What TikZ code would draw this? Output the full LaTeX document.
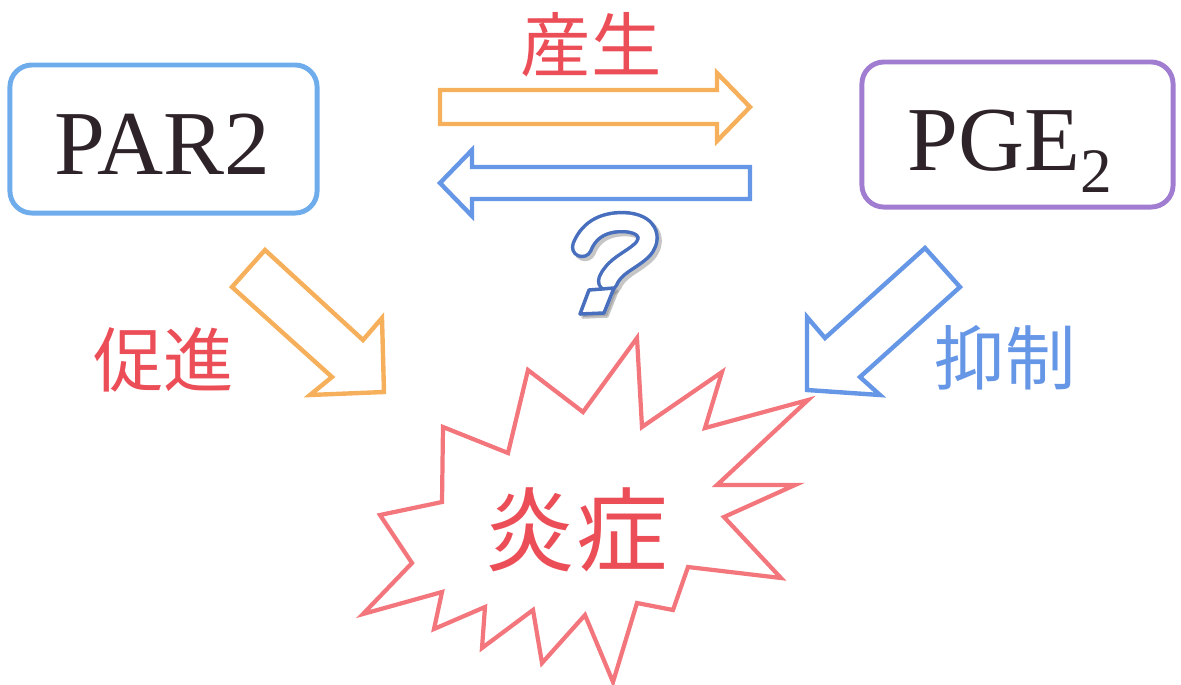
\documentclass[tikz,border=0pt]{standalone}
\usepackage{fontspec}
\setmainfont{Liberation Serif}
\newfontfamily\cjk{Noto Sans CJK JP}
\definecolor{parblue}{RGB}{110,172,235}
\definecolor{pgepurple}{RGB}{160,125,208}
\definecolor{arrorange}{RGB}{246,176,92}
\definecolor{arrblue}{RGB}{102,150,230}
\definecolor{lblred}{RGB}{236,78,88}
\definecolor{burstred}{RGB}{242,118,124}
\definecolor{qblue}{RGB}{72,110,190}
\definecolor{darktext}{RGB}{45,35,40}
\begin{document}
\begin{tikzpicture}[x=0.01cm,y=-0.01cm,
  boxstyle/.style={draw, line width=1.4pt, rounded corners=0.22cm, inner sep=0pt},
  bigtext/.style={font=\fontsize{26}{26}\selectfont, text=darktext, inner sep=0pt},
  blockarrow/.style={line width=1.25pt, fill=white, line join=miter},
  lbl/.style={font=\cjk\fontsize{20}{20}\selectfont, inner sep=0pt},
  qshadow/.style={draw=black!45, opacity=0.5, line cap=round, line join=round}
]
\useasboundingbox (0,0) rectangle (1181,684);

% boxes
\node[boxstyle, draw=parblue, minimum width=3.07cm, minimum height=1.48cm] (parbox) at (163.5,139) {};
\node[bigtext, anchor=base] (partext) at (162.5,174) {PAR2};
\node[boxstyle, draw=pgepurple, minimum width=3.11cm, minimum height=1.45cm] (pgebox) at (1017.5,134.5) {};
\node[bigtext, anchor=base west] (pgetext) at (907,170) {PGE\raisebox{-6.5pt}{\fontsize{18}{18}\selectfont 2}};

% horizontal block arrows
\draw[blockarrow, draw=arrorange] (440,90) -- (717,90) -- (717,73) -- (750,107) -- (717,141) -- (717,124) -- (440,124) -- cycle;
\draw[blockarrow, draw=arrblue] (750,167) -- (472,167) -- (472,150) -- (440,183) -- (472,216) -- (472,199) -- (750,199) -- cycle;

% diagonal block arrows
\draw[blockarrow, draw=arrorange] (265,250) -- (363,340) -- (382,318) -- (384,392) -- (310,395) -- (332,377) -- (232,287) -- cycle;
\draw[blockarrow, draw=arrblue] (925,248) -- (825,338) -- (807,317) -- (807,390) -- (880,395) -- (860,377) -- (960,287) -- cycle;

% question mark
\begin{scope}[shift={(3,3)}]
  \draw[qshadow, line width=6.4pt] (582,247) .. controls (590,227) and (607,222) .. (623,222) .. controls (650,223) and (653,240) .. (641,251) .. controls (630,261) and (614,266) .. (608,281);
  \filldraw[qshadow, fill=black!45, line width=1pt] (589,290) -- (614,288) -- (604,313) -- (580,314) -- cycle;
\end{scope}
\draw[qblue, line width=6.4pt, line cap=round, line join=round] (582,247) .. controls (590,227) and (607,222) .. (623,222) .. controls (650,223) and (653,240) .. (641,251) .. controls (630,261) and (614,266) .. (608,281);
\draw[white, line width=4.4pt, line cap=round, line join=round] (582,247) .. controls (590,227) and (607,222) .. (623,222) .. controls (650,223) and (653,240) .. (641,251) .. controls (630,261) and (614,266) .. (608,281);
\filldraw[draw=qblue, fill=white, line width=1pt, line join=round] (589,290) -- (614,288) -- (604,313) -- (580,314) -- cycle;

% starburst
\draw[burstred, line width=1.2pt, line join=miter, fill=white]
  (637,338) -- (642,427) -- (722,372) -- (705,428) -- (808,400) -- (717,485) -- (795,485) -- (724,517) -- (781,578) -- (688,567) -- (673,610) -- (637,603) -- (613,682) -- (585,615) -- (542,663) -- (533,610) -- (482,648) -- (485,607) -- (434,629) -- (442,592) -- (363,614) -- (412,563) -- (380,515) -- (442,502) -- (443,427) -- (508,453) -- (528,370) -- (583,412) -- cycle;
\node[font=\cjk\fontsize{26}{26}\selectfont, text=lblred, inner sep=0pt] (ensho) at (576,530) {炎症};

% labels
\node[lbl, text=lblred] (sansei) at (591,45) {産生};
\node[lbl, text=lblred] (sokushin) at (164,360) {促進};
\node[lbl, text=arrblue] (yokusei) at (1005,358) {抑制};
\end{tikzpicture}
\end{document}
